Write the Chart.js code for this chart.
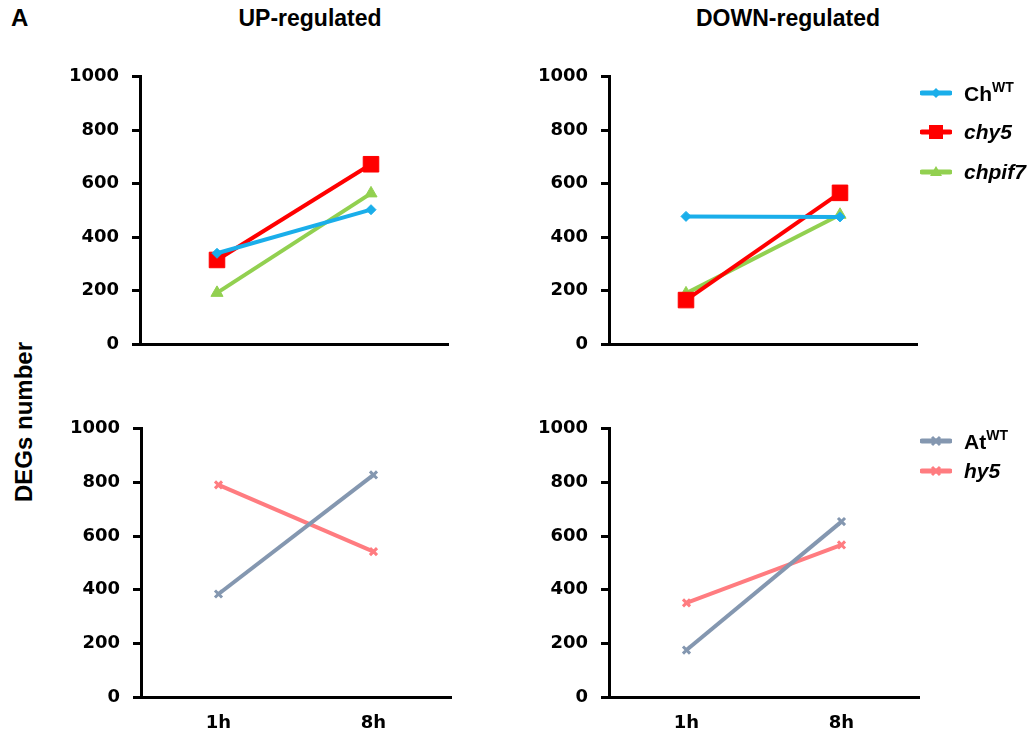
<!DOCTYPE html>
<html>
<head>
<meta charset="utf-8">
<script src="https://cdn.jsdelivr.net/npm/chart.js@4.4.1/dist/chart.umd.min.js"></script>
<style>
  html, body { margin:0; padding:0; background:#fff; }
  body { width:1030px; height:735px; position:relative; overflow:hidden; font-family:"Liberation Sans", Arial, sans-serif; }
  canvas { position:absolute; }
  .t { position:absolute; font-weight:bold; color:#000; white-space:nowrap; }
  .title { font-size:23px; line-height:23px; transform:translateX(-50%); }
  .ylab { font-size:24px; line-height:24px; transform:translate(-50%,-50%) rotate(-90deg); }
  .leg { position:absolute; display:flex; align-items:center; height:30px; transform:translateY(-50%); font-family:"Liberation Sans", Arial, sans-serif; font-weight:bold; font-size:21px; color:#000; white-space:nowrap; }
  .leg svg { margin-right:12px; }
  .leg sup { font-size:14px; position:relative; top:-1px; }
  .leg i { font-style:italic; }
</style>
</head>
<body>
<div class="t" style="left:11px;top:6px;font-size:24px;line-height:24px;">A</div>
<div class="t title" style="left:310px;top:7px;">UP-regulated</div>
<div class="t title" style="left:788px;top:7px;">DOWN-regulated</div>
<div class="t ylab" style="left:24px;top:422px;">DEGs number</div>

<canvas id="c1" width="420" height="315" style="left:40px;top:53px;"></canvas>
<canvas id="c2" width="420" height="315" style="left:509px;top:53px;"></canvas>
<canvas id="c3" width="420" height="328" style="left:41px;top:405px;"></canvas>
<canvas id="c4" width="420" height="328" style="left:509px;top:405px;"></canvas>

<div id="legendTop"></div>
<div id="legendBottom"></div>

<script>
// ---- Data ----
const categories = ['1h', '8h'];
const yTickMin = 0;
const yTickMax = 1000;
const yTickStep = 200;

// top row strains
const upChWT    = [340, 503];
const upChy5    = [315, 673];
const upChpif7  = [192, 564];
const downChWT   = [478, 476];
const downChy5   = [165, 566];
const downChpif7 = [190, 484];

// bottom row (Arabidopsis)
const upAtWT   = [384, 828];
const upHy5    = [791, 542];
const downAtWT = [175, 654];
const downHy5  = [351, 567];

// ---- Styles ----
const COL = {
  chwt: '#1AAEEA',
  chy5: '#FF0000',
  chpif7: '#92D050',
  atwt: '#8497B0',
  hy5: '#FF7C80'
};

function ds(data, color, style, radius) {
  return {
    data: data,
    borderColor: color,
    backgroundColor: color,
    borderWidth: 4,
    pointStyle: style,
    pointRadius: radius,
    pointBorderWidth: style === 'crossRot' ? 3 : 1,
    pointBorderColor: color,
    pointBackgroundColor: color,
    tension: 0,
    fill: false
  };
}

const tickFont = { family: 'DejaVu Sans', weight: 'bold', size: 18 };

function makeChart(id, datasets, showX, xHeight) {
  new Chart(document.getElementById(id), {
    type: 'line',
    data: { labels: categories, datasets: datasets },
    options: {
      responsive: false,
      animation: false,
      devicePixelRatio: 1,
      layout: { padding: { top: 16, right: 10, left: 0, bottom: 0 } },
      plugins: { legend: { display: false }, tooltip: { enabled: false } },
      scales: {
        x: {
          offset: true,
          grid: { display: false, drawTicks: false },
          border: { display: true, color: '#000', width: 3 },
          ticks: { display: showX, color: '#000', font: tickFont, padding: 16 },
          afterFit: (s) => { s.height = xHeight; }
        },
        y: {
          min: yTickMin,
          max: yTickMax,
          ticks: { stepSize: yTickStep, color: '#000', font: tickFont, padding: 13,
                   callback: (v) => String(v) },
          grid: { drawOnChartArea: false, drawTicks: true, tickLength: 8, color: '#000', lineWidth: 3 },
          border: { display: true, color: '#000', width: 3 },
          afterFit: (s) => { s.width = 100; }
        }
      }
    }
  });
}

makeChart('c1', [
  ds(upChWT, COL.chwt, 'rectRot', 5),
  ds(upChpif7, COL.chpif7, 'triangle', 7),
  ds(upChy5, COL.chy5, 'rect', 11)
], false, 17);

makeChart('c2', [
  ds(downChWT, COL.chwt, 'rectRot', 5),
  ds(downChy5, COL.chy5, 'rect', 11),
  ds(downChpif7, COL.chpif7, 'triangle', 7)
], false, 17);

makeChart('c3', [
  ds(upAtWT, COL.atwt, 'crossRot', 5),
  ds(upHy5, COL.hy5, 'crossRot', 5)
], true, 36);

makeChart('c4', [
  ds(downAtWT, COL.atwt, 'crossRot', 5),
  ds(downHy5, COL.hy5, 'crossRot', 5)
], true, 36);

// ---- Legends (HTML) ----
function markerSvg(color, style) {
  let m = '';
  if (style === 'diamond') m = `<polygon points="16,7 21,12 16,17 11,12" fill="${color}"/>`;
  else if (style === 'square') m = `<rect x="9" y="5" width="14" height="14" fill="${color}"/>`;
  else if (style === 'triangle') m = `<polygon points="16,6 22,16 10,16" fill="${color}"/>`;
  else if (style === 'cross') m = `<path d="M12 8 L20 16 M20 8 L12 16" stroke="${color}" stroke-width="3"/>`;
  return `<svg width="32" height="24" viewBox="0 0 32 24"><line x1="2" y1="12" x2="30" y2="12" stroke="${color}" stroke-width="5" stroke-linecap="round"/>${m}</svg>`;
}
function legendItem(x, y, color, style, html) {
  return `<div class="leg" style="left:${x}px;top:${y}px;">${markerSvg(color, style)}<span>${html}</span></div>`;
}
document.getElementById('legendTop').innerHTML =
  legendItem(920, 93, COL.chwt, 'diamond', 'Ch<sup>WT</sup>') +
  legendItem(920, 132, COL.chy5, 'square', '<i>chy5</i>') +
  legendItem(920, 172, COL.chpif7, 'triangle', '<i>chpif7</i>');
document.getElementById('legendBottom').innerHTML =
  legendItem(920, 441, COL.atwt, 'cross', 'At<sup>WT</sup>') +
  legendItem(920, 471, COL.hy5, 'cross', '<i>hy5</i>');
</script>
</body>
</html>
